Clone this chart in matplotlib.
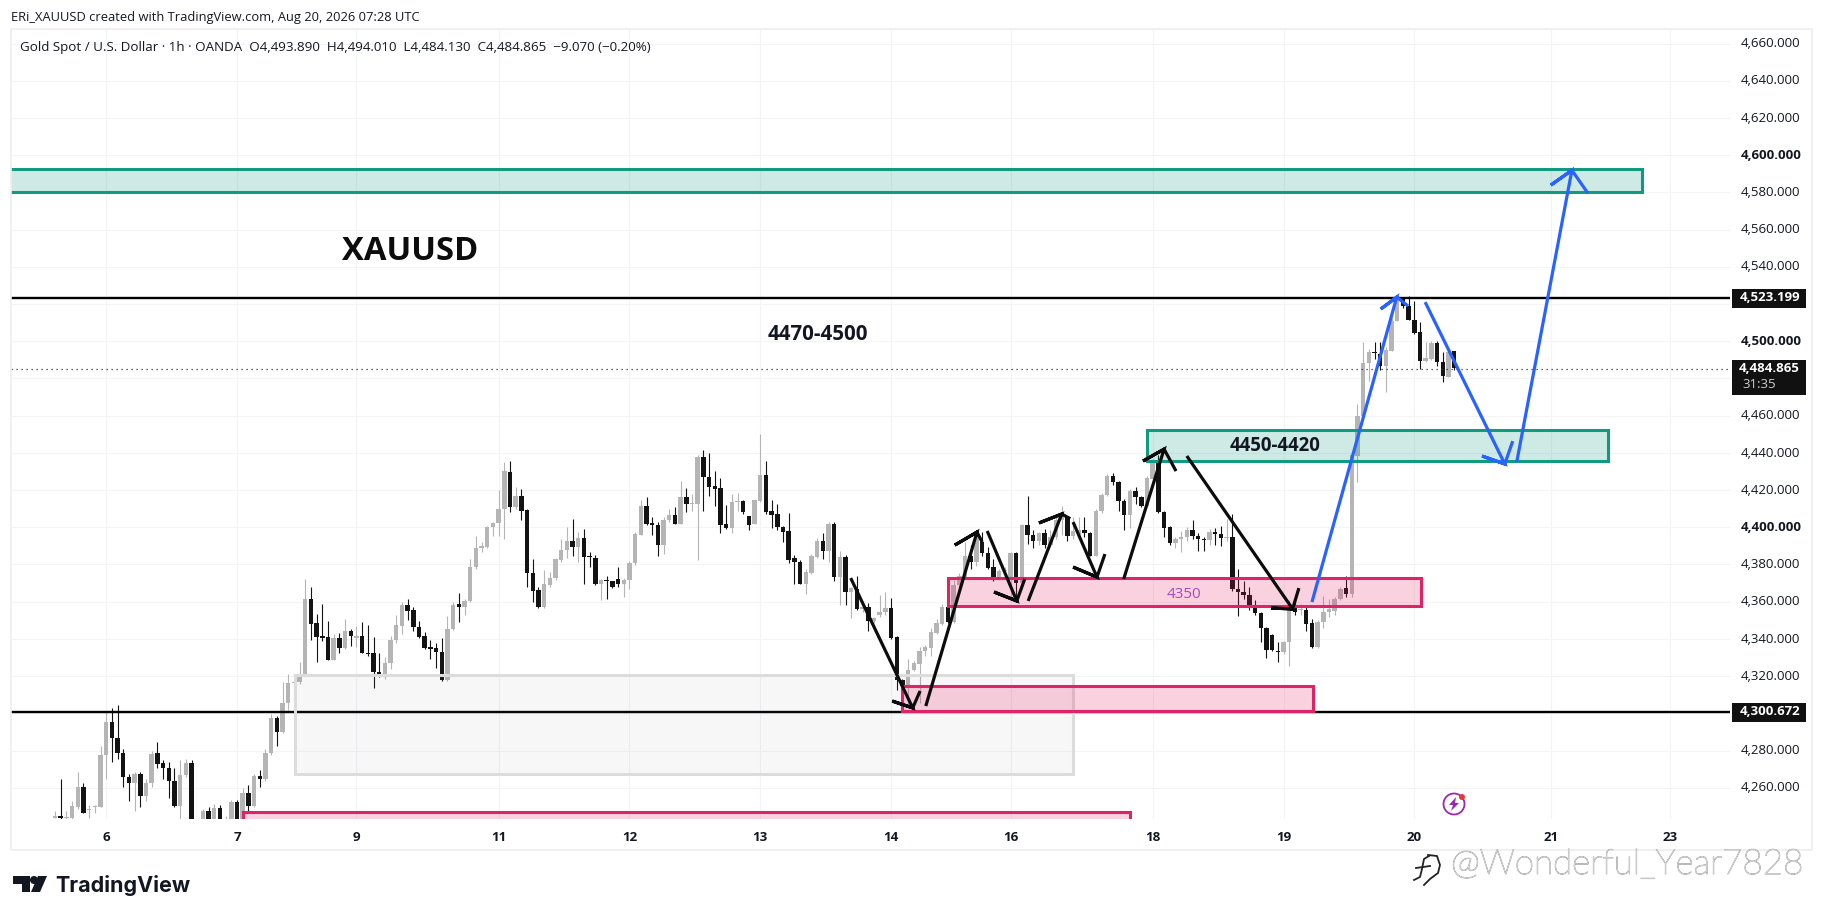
import matplotlib
matplotlib.use("Agg")
import matplotlib.pyplot as plt
import numpy as np
from matplotlib.patches import Rectangle, Polygon, Circle
from matplotlib.transforms import blended_transform_factory, Affine2D, ScaledTranslation
import matplotlib.patheffects as pe

plt.rcParams["font.family"] = ["Open Sans", "DejaVu Sans"]

opens = [4243,4244,4243,4243,4249,4260,4247.5,4249,4249,4277,
 4294.5,4286,4278,4265,4262,4267,4255,4262,4278,4272.5,
 4270,4263,4249.5,4266,4272.5,4235,4241,4247,4241,4248.5,
 4240,4242,4251.5,4242,4256.5,4249.5,4265.5,4264,4278,4297,
 4289.5,4305,4315.5,4316,4320,4361,4348,4341,4340.6,4328,
 4339.7,4334.5,4343.5,4340,4341,4332,4331.6,4321.8,4319,4326.3,
 4338.5,4346.5,4357.6,4355,4346,4340.7,4335,4334.3,4332.2,4317,
 4344.7,4358,4356.4,4359.6,4377.8,4388,4389,4399.3,4401.5,4409,
 4428.9,4410,4416,4408.6,4374.6,4365.7,4356.7,4368.5,4372,4382,
 4387.2,4391.8,4388.6,4393.5,4383.4,4382.9,4368.6,4370.8,4370.2,4371.6,
 4368.6,4371,4380,4395.3,4410.6,4401.5,4400.6,4390,4403,4406,
 4401.2,4415.5,4412,4412,4437,4426.6,4421.4,4420.3,4401.2,4398.8,
 4412.8,4413.5,4405.3,4401.2,4413.7,4427.5,4408,4406.5,4399.4,4397.2,
 4382.7,4380.6,4368.9,4374.8,4383.6,4391.8,4386.8,4401.2,4372.5,4383.2,
 4364.4,4366.2,4355.3,4356.4,4349.2,4352.4,4354,4355.8,4340.3,4317.5,
 4314,4322.9,4326,4332.8,4334.5,4342.6,4347.4,4356.4,4348.7,4368.5,
 4372.8,4384.1,4380.5,4391.3,4385.6,4377.9,4372.5,4376,4372,4385.6,
 4369.4,4400.6,4395.2,4392.2,4396.1,4389.9,4394,4403,4404.7,4394.5,
 4395,4398,4396,4384.1,4408,4416.9,4426.7,4423.5,4413.3,4406,
 4419,4415.5,4411,4425.3,4434.3,4407.4,4399.3,4390.9,4393,4394,
 4398,4394.9,4393,4392.5,4397,4395.8,4393.4,4394,4365.9,4364.4,
 4363,4356.7,4353.3,4345,4341.5,4333.1,4332.2,4337.6,4356.4,4355,
 4355.1,4347.9,4334.9,4348.3,4354,4354.6,4360.8,4366.6,4363.5,4437.9,
 4459.4,4487.5,4493.2,4492.5,4486.2,4494.3,4510.4,4522,4518.1,4511,
 4504.1,4488.9,4489.8,4498.4,4488,4480,4493.89]
highs = [4247,4264,4247,4252,4268,4262,4250,4250,4282,4300,
 4302,4304,4280,4267,4268,4268,4264,4279,4284,4274,
 4273,4270,4274,4275,4274,4240,4248,4249,4250.5,4250,
 4244,4253,4252.5,4259,4261,4267,4269,4280,4299,4298,
 4316,4320.5,4320.5,4327,4371.6,4367,4352.8,4358,4349,4342,
 4342.6,4350,4344.7,4346.5,4348.6,4346.9,4340.2,4331.8,4329.5,4341,
 4352,4359,4361,4356.4,4349.2,4343.3,4338.8,4337.2,4339.9,4351.9,
 4359,4364,4360.8,4382.3,4394.9,4391.3,4400.2,4402,4419.6,4434.3,
 4434.8,4420.8,4420,4409,4382.4,4367.1,4376.4,4375.2,4383,4393,
 4399.4,4403.8,4396.7,4398.5,4386,4384.7,4371.4,4373.4,4370.7,4377.9,
 4372,4381,4396.7,4414.2,4415.5,4404.7,4402,4404.7,4409.2,4410.1,
 4424.4,4420.3,4417,4438,4441,4439.3,4429.5,4425.7,4411.4,4417.3,
 4417.8,4414.2,4405.5,4414.5,4449.5,4434.8,4414.2,4411.9,4400,4407,
 4384.5,4382,4377,4385,4393.6,4396.3,4402,4402,4386.8,4384.7,
 4367.5,4373.4,4357.5,4358.7,4351.3,4362.7,4364.4,4361.4,4341,4318,
 4328.6,4327.7,4335,4336,4345,4350,4358,4358,4371,4375,
 4391.3,4390,4397.6,4396.7,4388.6,4382.3,4377,4378,4386,4386,
 4401,4416,4398,4397,4398.4,4398,4405,4410.6,4405.6,4405,
 4405,4405,4397,4409,4418,4428,4428.5,4424,4414.5,4420,
 4420.8,4416,4427,4436,4438,4408,4400,4394,4397.5,4399.3,
 4403,4396,4394,4398.5,4399,4400,4404,4406.5,4377,4370.7,
 4367,4360,4354,4346,4342,4337.5,4338,4360,4360.8,4358,
 4357,4350,4349.5,4362.6,4361,4362,4367,4373.4,4440,4465.6,
 4498.8,4495,4498.8,4498.8,4496,4512,4524.5,4523,4523.8,4521,
 4509.5,4498.8,4499.5,4499.7,4493.4,4495,4494.01]
lows = [4243,4242,4242,4242,4248,4246,4243,4246,4249,4264,
 4273,4275,4260,4252,4247,4249,4252,4260,4270,4264,
 4254,4249,4242,4265,4238,4230,4240,4240,4240,4240,
 4238,4240,4240,4240,4247,4249,4260,4263,4277,4282,
 4289,4301,4296,4315,4320,4338.5,4327,4338,4328,4328,
 4331.8,4334,4335.8,4335,4332,4330.4,4313,4318.7,4318,4323,
 4337,4342,4349.5,4343.8,4339.8,4334,4328.6,4323.6,4316.6,4316.6,
 4344,4348.6,4352,4359,4377,4386,4388,4394.5,4394.9,4393,
 4407.8,4409,4403,4367.1,4359.4,4356,4356,4367,4371,4380.6,
 4383,4384.1,4380.9,4368.9,4378.2,4368.4,4360,4360.9,4366.8,4367.1,
 4361.8,4366.2,4379,4395,4400.7,4395.2,4383.8,4385,4402,4401,
 4401,4407.4,4408.3,4382,4408.3,4416.4,4411,4396.3,4398.5,4396.3,
 4408.3,4406.5,4398.1,4401,4413,4406.5,4398.8,4398,4391.3,4380.2,
 4368.6,4368.6,4363.5,4374,4383,4382.3,4380.6,4370.7,4357.3,4357.3,
 4350.6,4355,4354,4343.5,4348,4351,4352,4339.5,4312.1,4310,
 4304,4322,4305,4330,4330,4342,4347,4348,4348,4367,
 4372,4377,4378.7,4384,4377,4370.7,4371,4372,4360,4359,
 4369,4390.4,4388,4390,4388,4389,4393,4395,4392.2,4393,
 4393,4394,4384,4384,4407,4416,4422,4408,4398,4399,
 4412,4410,4410,4425,4407,4394,4390,4388,4386,4392,
 4393,4386.8,4386.8,4390,4390,4389.5,4392,4365,4351.9,4361,
 4355,4352,4337.6,4329,4333,4327.2,4331,4325,4352,4352,
 4343.8,4334.5,4334.5,4345,4351,4352,4360,4362,4362,4423.6,
 4458,4478.2,4489.8,4484,4472,4494,4510,4517,4510.5,4503,
 4484.4,4488,4489,4486.2,4477.6,4480,4484.13]
closes = [4244,4243,4243.5,4249.5,4260,4246,4248,4249.5,4277,4294.5,
 4286,4278,4265,4262,4267,4255,4262,4277.5,4272,4270,
 4263,4249.5,4266,4272.5,4240,4238,4247,4241,4248.5,4241,
 4242,4251.5,4242,4256.5,4249.5,4265.5,4264,4278,4297,4289.5,
 4305,4315.7,4316,4320,4361,4347.4,4340.6,4340,4328,4339.7,
 4334.5,4343.5,4341,4341,4332,4331.3,4321.8,4319,4326.3,4338.8,
 4346.8,4357.6,4354.6,4346,4340.2,4334.5,4334,4332.2,4317,4344.7,
 4357.8,4356.4,4359.6,4377.8,4388.2,4389.5,4399.3,4401.7,4409.2,4429.5,
 4410,4416,4408.3,4374.6,4365.3,4356.7,4368.9,4372.1,4382.4,4387.2,
 4392,4388.6,4393.5,4383.2,4383.2,4368.6,4371,4370.2,4367.5,4368.6,
 4371.1,4380,4395.8,4410.6,4401.2,4400.3,4390,4403.3,4406,4401.2,
 4415.5,4412.1,4412.5,4437,4426.6,4421.2,4420,4400.8,4398.8,4412.8,
 4413.5,4407.8,4400.8,4414,4427.5,4407.8,4406,4399.4,4397,4382,
 4380.6,4368.9,4375.2,4383.8,4391.8,4386.8,4401.2,4372.5,4383.2,4364.4,
 4366.8,4355.3,4356.4,4349.2,4350.5,4354,4355.8,4339.9,4317.5,4314,
 4322.9,4326.5,4333.1,4334.9,4342.9,4347.8,4356.7,4348.7,4368.5,4373,
 4384.1,4380.5,4395.8,4385.6,4377.3,4372.5,4376,4376.5,4385.6,4369.4,
 4400.6,4395.2,4392.2,4396,4389.9,4394,4403,4405.6,4394.5,4397.5,
 4398,4396,4384.1,4408,4416.9,4426.7,4423.5,4413.3,4406,4419,
 4415.8,4411,4425.7,4434.3,4407.4,4399,4390.9,4393,4394,4398,
 4394.9,4393,4392.5,4397,4395.8,4393.4,4394.3,4365.9,4364.4,4363,
 4356.7,4353.3,4345,4333.6,4333.2,4332.2,4337.6,4355.5,4353.7,4355.5,
 4347.4,4334.9,4348.7,4354,4355.5,4360.8,4366.2,4363.5,4438.2,4459.4,
 4487.5,4493.4,4493,4486.2,4494.7,4510.4,4523,4518.1,4511,4503.8,
 4488.9,4490.2,4498.4,4488,4480.9,4493.8,4484.865]

price_ticks = list(range(4260, 4661, 20))
bold_ticks = [4400, 4500, 4600]
covered_ticks = [4300, 4480, 4520]   # hidden behind the price tags in the reference
day_ticks = [9, 32, 53, 78, 101, 124, 147, 168, 193, 216, 239, 263, 284]
day_labels = ["6", "7", "9", "11", "12", "13", "14", "16", "18", "19", "20", "21", "23"]

resistance = 4523.199
support = 4300.672
last_close = 4484.865

# zones: left bar, right bar, bottom price, top price
green_zones = [(-20, 279, 4580.1, 4592.5), (192, 273, 4435.4, 4452.4)]
pink_zones = [(149, 221.2, 4301.1, 4314.5), (157, 240.2, 4357.5, 4372.7), (33, 189, 4230, 4246.8)]
grey_zone = (42.2, 179, 4267.4, 4320.6)

# arrows: polyline bars/prices (start, tip, head, tip, head)
black_arrows = [
 ([139.9,150.8,147.2,150.8,152.1],[4372.7,4302.9,4306.6,4302.9,4312]),
 ([153.1,162.1,158.2,162.1,163.0],[4303.9,4397.4,4390.4,4397.4,4392.1]),
 ([163.9,169.1,165.1,169.1,170.5],[4398,4360.4,4365.2,4360.4,4372.2]),
 ([171.1,177.0,173.0,177.0,178.5],[4360.4,4407.1,4402.3,4407.1,4404.6]),
 ([179.0,183.2,179.0,183.2,184.6],[4402.8,4373.2,4378.6,4373.2,4385.6]),
 ([187.9,195.0,191.3,195.0,197.1],[4372.2,4442,4435.6,4442,4430.2]),
 ([199.0,217.6,213.8,217.6,218.7],[4438.3,4356.1,4356.6,4356.1,4367.3]),
]
blue_arrows = [
 ([221.0,235.9,233.1,235.9,237.9],[4359.8,4523.7,4517.3,4523.7,4518.9]),
 ([240.9,254.9,250.9,254.9,256.3],[4521,4434,4438.3,4434,4446.3]),
 ([257.0,266.7,263.0,266.7,269.5],[4435,4591.9,4583.9,4591.9,4579.6]),
]

W, H = 1824, 920
fig = plt.figure(figsize=(W/100, H/100), dpi=100, facecolor="white")
L, R, T, B = 11, 1730, 30, 820
ax = fig.add_axes([L/W, 1-B/H, (R-L)/W, (B-T)/H])
ax.set_xlim(-7.74, 294.5)
ax.set_ylim(4243.2, 4667.8)
for s in ax.spines.values():
    s.set_visible(False)

ax.set_yticks(price_ticks)
ax.yaxis.tick_right()
ax.set_xticks(day_ticks)
ax.set_xticklabels(day_labels)
ax.tick_params(axis="both", length=0)
ax.tick_params(axis="y", pad=8, labelsize=9.5, labelcolor="#131722")
ax.tick_params(axis="x", pad=8, labelsize=9.6, labelcolor="#131722")
ax.set_yticklabels(["" if v in covered_ticks else f"{v:,.3f}" for v in price_ticks])
lift = ScaledTranslation(0, 2.3 / 100, fig.dpi_scale_trans)
for lab, v in zip(ax.get_yticklabels(), price_ticks):
    lab.set_transform(lab.get_transform() + lift)
    if v in bold_ticks:
        lab.set_fontweight("bold")
for lab in ax.get_xticklabels():
    lab.set_fontweight("bold")
ax.grid(True, color="#f3f4f6", lw=0.8)
ax.set_axisbelow(True)

# candles (readings were taken 0.65 below the calibrated price scale)
read_offset = 0.65
x = np.arange(len(opens))
o, h, l, c = (np.array(v) + read_offset for v in (opens, highs, lows, closes))
up = c >= o
for mask, col, z in ((up, "#b5b5b5", 2.0), (~up, "#131313", 2.1)):
    ax.vlines(x[mask], l[mask], h[mask], color=col, lw=0.8, zorder=z)
    ax.bar(x[mask], np.maximum(np.abs(c - o)[mask], 0.6), bottom=np.minimum(o, c)[mask],
           width=0.78, color=col, lw=0, zorder=z)

# levels
ax.axhline(resistance, color="black", lw=1.7, zorder=2.5)
ax.axhline(support, color="black", lw=1.7, zorder=2.5)
ax.axhline(last_close, color="#333333", lw=0.9, ls=(0, (1, 3)), zorder=2.5)

# zones
def zone(z, edge, face, alpha, lw):
    x0, x1, y0, y1 = z
    ax.add_patch(Rectangle((x0, y0), x1 - x0, y1 - y0, facecolor=matplotlib.colors.to_rgba(face, alpha),
                           edgecolor=edge, lw=lw, zorder=3))
zone(grey_zone, "#dcdcdc", "#787b86", 0.06, 2.2)
for z in green_zones:
    zone(z, "#119a80", "#089981", 0.2, 2.2)
for z in pink_zones:
    zone(z, "#dd2467", "#e91e63", 0.2, 2.2)

# arrows
for bars, prices in black_arrows:
    ax.plot(bars, prices, color="#0c0c0c", lw=2.3, solid_capstyle="butt", solid_joinstyle="miter", zorder=4)
for bars, prices in blue_arrows:
    ax.plot(bars, prices, color="#2962ff", lw=2.3, solid_capstyle="butt", solid_joinstyle="miter", zorder=4)

# chart labels
ax.text(62.5, 4548.7, "XAUUSD", fontsize=23.6, fontweight="bold", color="#0c0c0c", ha="center", va="center", zorder=5)
ax.text(134.2, 4504, "4470-4500", fontsize=14.8, fontweight="bold", color="#131722", ha="center", va="center", zorder=5)
ax.text(214.5, 4444, "4450-4420", fontsize=13.4, fontweight="bold", color="#131722", ha="center", va="center", zorder=5)
ax.text(198.5, 4364.6, "4350", fontsize=11, color="#ab47bc", ha="center", va="center", zorder=5)

# price tags
trans = blended_transform_factory(ax.transAxes, ax.transData)
px = 1 / (R - L)
unit = 1 / 1.8605
def tag(price, top, bottom, text, sub=None):
    ax.add_patch(Rectangle((1 + 2 * px, price - bottom * unit), 74 * px, (top + bottom) * unit,
                           transform=trans, facecolor="#111111", edgecolor="none", clip_on=False, zorder=6))
    ax.text(1 + 70 * px, price + 0.8, text, transform=trans, color="white", fontsize=9.5, fontweight="bold",
            ha="right", va="center", clip_on=False, zorder=7)
    if sub:
        ax.text(1 + 12 * px, price - 14.6 * unit, sub, transform=trans, color="#cfcfcf", fontsize=9.5,
                ha="left", va="center", clip_on=False, zorder=7)
tag(resistance, 9, 10, "4,523.199")
tag(support, 9, 10, "4,300.672")
tag(last_close, 9.4, 25.6, "4,484.865", "31:35")

# frame and page furniture, in figure pixels
pix = Affine2D().scale(1, -1).translate(0, H)
fig.add_artist(Rectangle((11, 30), 1801, 821, transform=pix, facecolor="none", edgecolor="#eeeeee", lw=1.2))
fig.text(11/W, 1-17/H, "ERi_XAUUSD created with TradingView.com, Aug 20, 2026 07:28 UTC", fontsize=9.3,
         color="#131722", va="center")
fig.text(20/W, 1-47.5/H, "Gold Spot / U.S. Dollar · 1h · OANDA  O4,493.890  H4,494.010  L4,484.130  C4,484.865  −9.070 (−0.20%)",
         fontsize=9.6, color="#131722", va="center")

# TradingView logo
for pts in ([(13,877),(30,877),(30,893),(22,893),(22,885),(13,885)],
            [(38,877),(47,877),(40,893),(31,893)]):
    fig.add_artist(Polygon(pts, closed=True, transform=pix, facecolor="#131722", edgecolor="none"))
fig.add_artist(Circle((34, 881), 4, transform=pix, facecolor="#131722", edgecolor="none"))
fig.text(55/W, 1-886/H, "TradingView", fontsize=15.5, fontweight="bold", family="Inter", color="#131722", va="center")

# event marker
fig.add_artist(Circle((1454, 805), 10.5, transform=pix, facecolor="white", edgecolor="#9c27b0", lw=1.3))
fig.add_artist(Polygon([(1456,798),(1449,806),(1453,806),(1451,812),(1459,804),(1455,804)], closed=True,
                       transform=pix, facecolor="#9c27b0", edgecolor="none"))
fig.add_artist(Circle((1462, 798), 3, transform=pix, facecolor="#e53935", edgecolor="none"))

# watermark
stroke = [pe.withStroke(linewidth=0.7, foreground="#a8a8a8")]
fig.text(1451/W, 1-865/H, "@Wonderful_Year7828", fontsize=25.2, family="Lato", fontweight="light", color="white",
         va="center", path_effects=stroke)
icon_outer = ([1428,1437,1440,1438,1430,1424], [856,857,866,874,880,886])
icon_stem = ([1429,1424,1422,1420,1414], [857,860,870,878,881])
icon_bar = ([1416,1430], [869,867])
for xs, ys in (icon_outer, icon_stem, icon_bar):
    fig.add_artist(plt.Line2D(xs, ys, transform=pix, color="#222222", lw=1.3))

fig.savefig("out.png", dpi=100, facecolor="white")
